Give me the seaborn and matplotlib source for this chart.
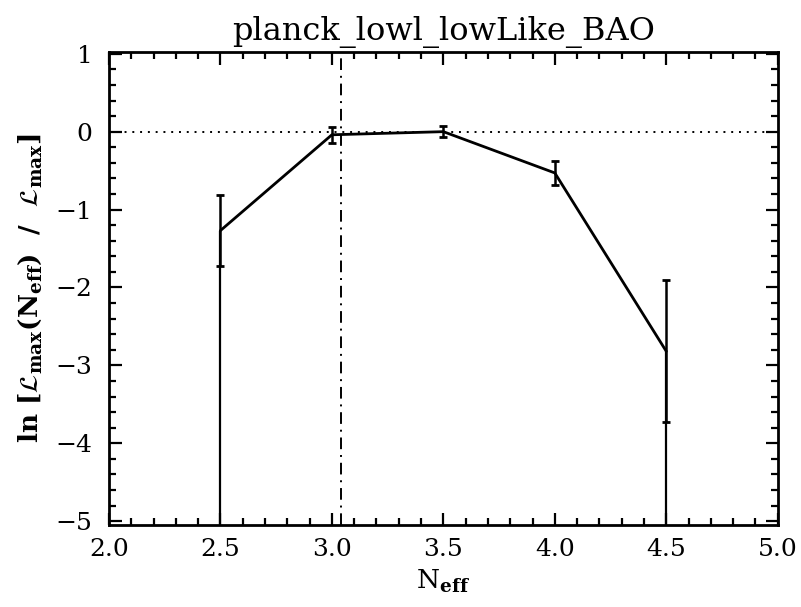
import matplotlib
matplotlib.use('Agg')
import matplotlib.pyplot as plt
import seaborn as sns
import pandas as pd
import numpy as np
from matplotlib.ticker import MultipleLocator

# data
neff = [2.5, 3.0, 3.5, 4.0, 4.5]
lnlike = [-1.27, -0.04, 0.0, -0.53, -2.82]
err = [0.46, 0.10, 0.07, 0.15, 0.91]
# points with a one-sided (open) lower bar
open_low = [2.5, 4.5]
neff_std = 3.04

sns.set_style('ticks')
plt.rcParams['font.family'] = ['DejaVu Serif']
plt.rcParams['mathtext.fontset'] = 'dejavuserif'

df = pd.DataFrame({'neff': neff, 'lnlike': lnlike, 'err': err})

fig = plt.figure(figsize=(8.01, 6.07), dpi=100)
ax = fig.add_axes([0.136, 0.135, 0.835, 0.779])

ymin, ymax = -5.05, 1.02

sns.lineplot(data=df, x='neff', y='lnlike', color='black', lw=2, ax=ax)
ax.errorbar(df['neff'], df['lnlike'], yerr=df['err'], fmt='none',
            ecolor='black', elinewidth=1.8, capsize=3, capthick=2)
for x in open_low:
    y = df.loc[df['neff'] == x, 'lnlike'].iloc[0]
    ax.plot([x, x], [y, ymin - 1], color='black', lw=1.6, clip_on=True)

ax.axhline(0, color='black', lw=1.4, ls=(0, (1, 3)))
ax.axvline(neff_std, color='black', lw=1.4, ls=(0, (6, 3, 1, 3)))

ax.set_xlim(2.0, 5.0)
ax.set_ylim(ymin, ymax)
ax.xaxis.set_major_locator(MultipleLocator(0.5))
ax.xaxis.set_minor_locator(MultipleLocator(0.1))
ax.yaxis.set_major_locator(MultipleLocator(1))
ax.yaxis.set_minor_locator(MultipleLocator(0.2))
ax.set_xticklabels([f'{v:.1f}' for v in ax.get_xticks()])
ax.tick_params(which='both', direction='in', top=True, right=True,
               width=1.6, color='black', labelcolor='black', labelsize=18)
ax.tick_params(which='major', length=9)
ax.tick_params(which='minor', length=5)
ax.tick_params(axis='x', which='major', pad=9)
ax.tick_params(axis='y', which='major', pad=12)
for s in ax.spines.values():
    s.set_linewidth(2)
    s.set_color('black')
    s.set_visible(True)

ax.set_yticks(range(-5, 2))
ax.set_yticklabels(['\u22125', '\u22124', '\u22123', '\u22122', '\u22121', '0', '1'])

ax.set_title('planck_lowl_lowLike_BAO', fontsize=23, pad=9, color='black')
ax.set_xlabel(r'N$_{\mathbf{eff}}$', fontsize=19, labelpad=5, color='black')
ax.set_ylabel(r'ln [$\mathcal{L}_{\mathbf{max}}$(N$_{\mathbf{eff}}$)  /  $\mathcal{L}_{\mathbf{max}}$]',
              fontsize=19, labelpad=8, color='black', fontweight='bold')

fig.savefig('out.png', dpi=100)
